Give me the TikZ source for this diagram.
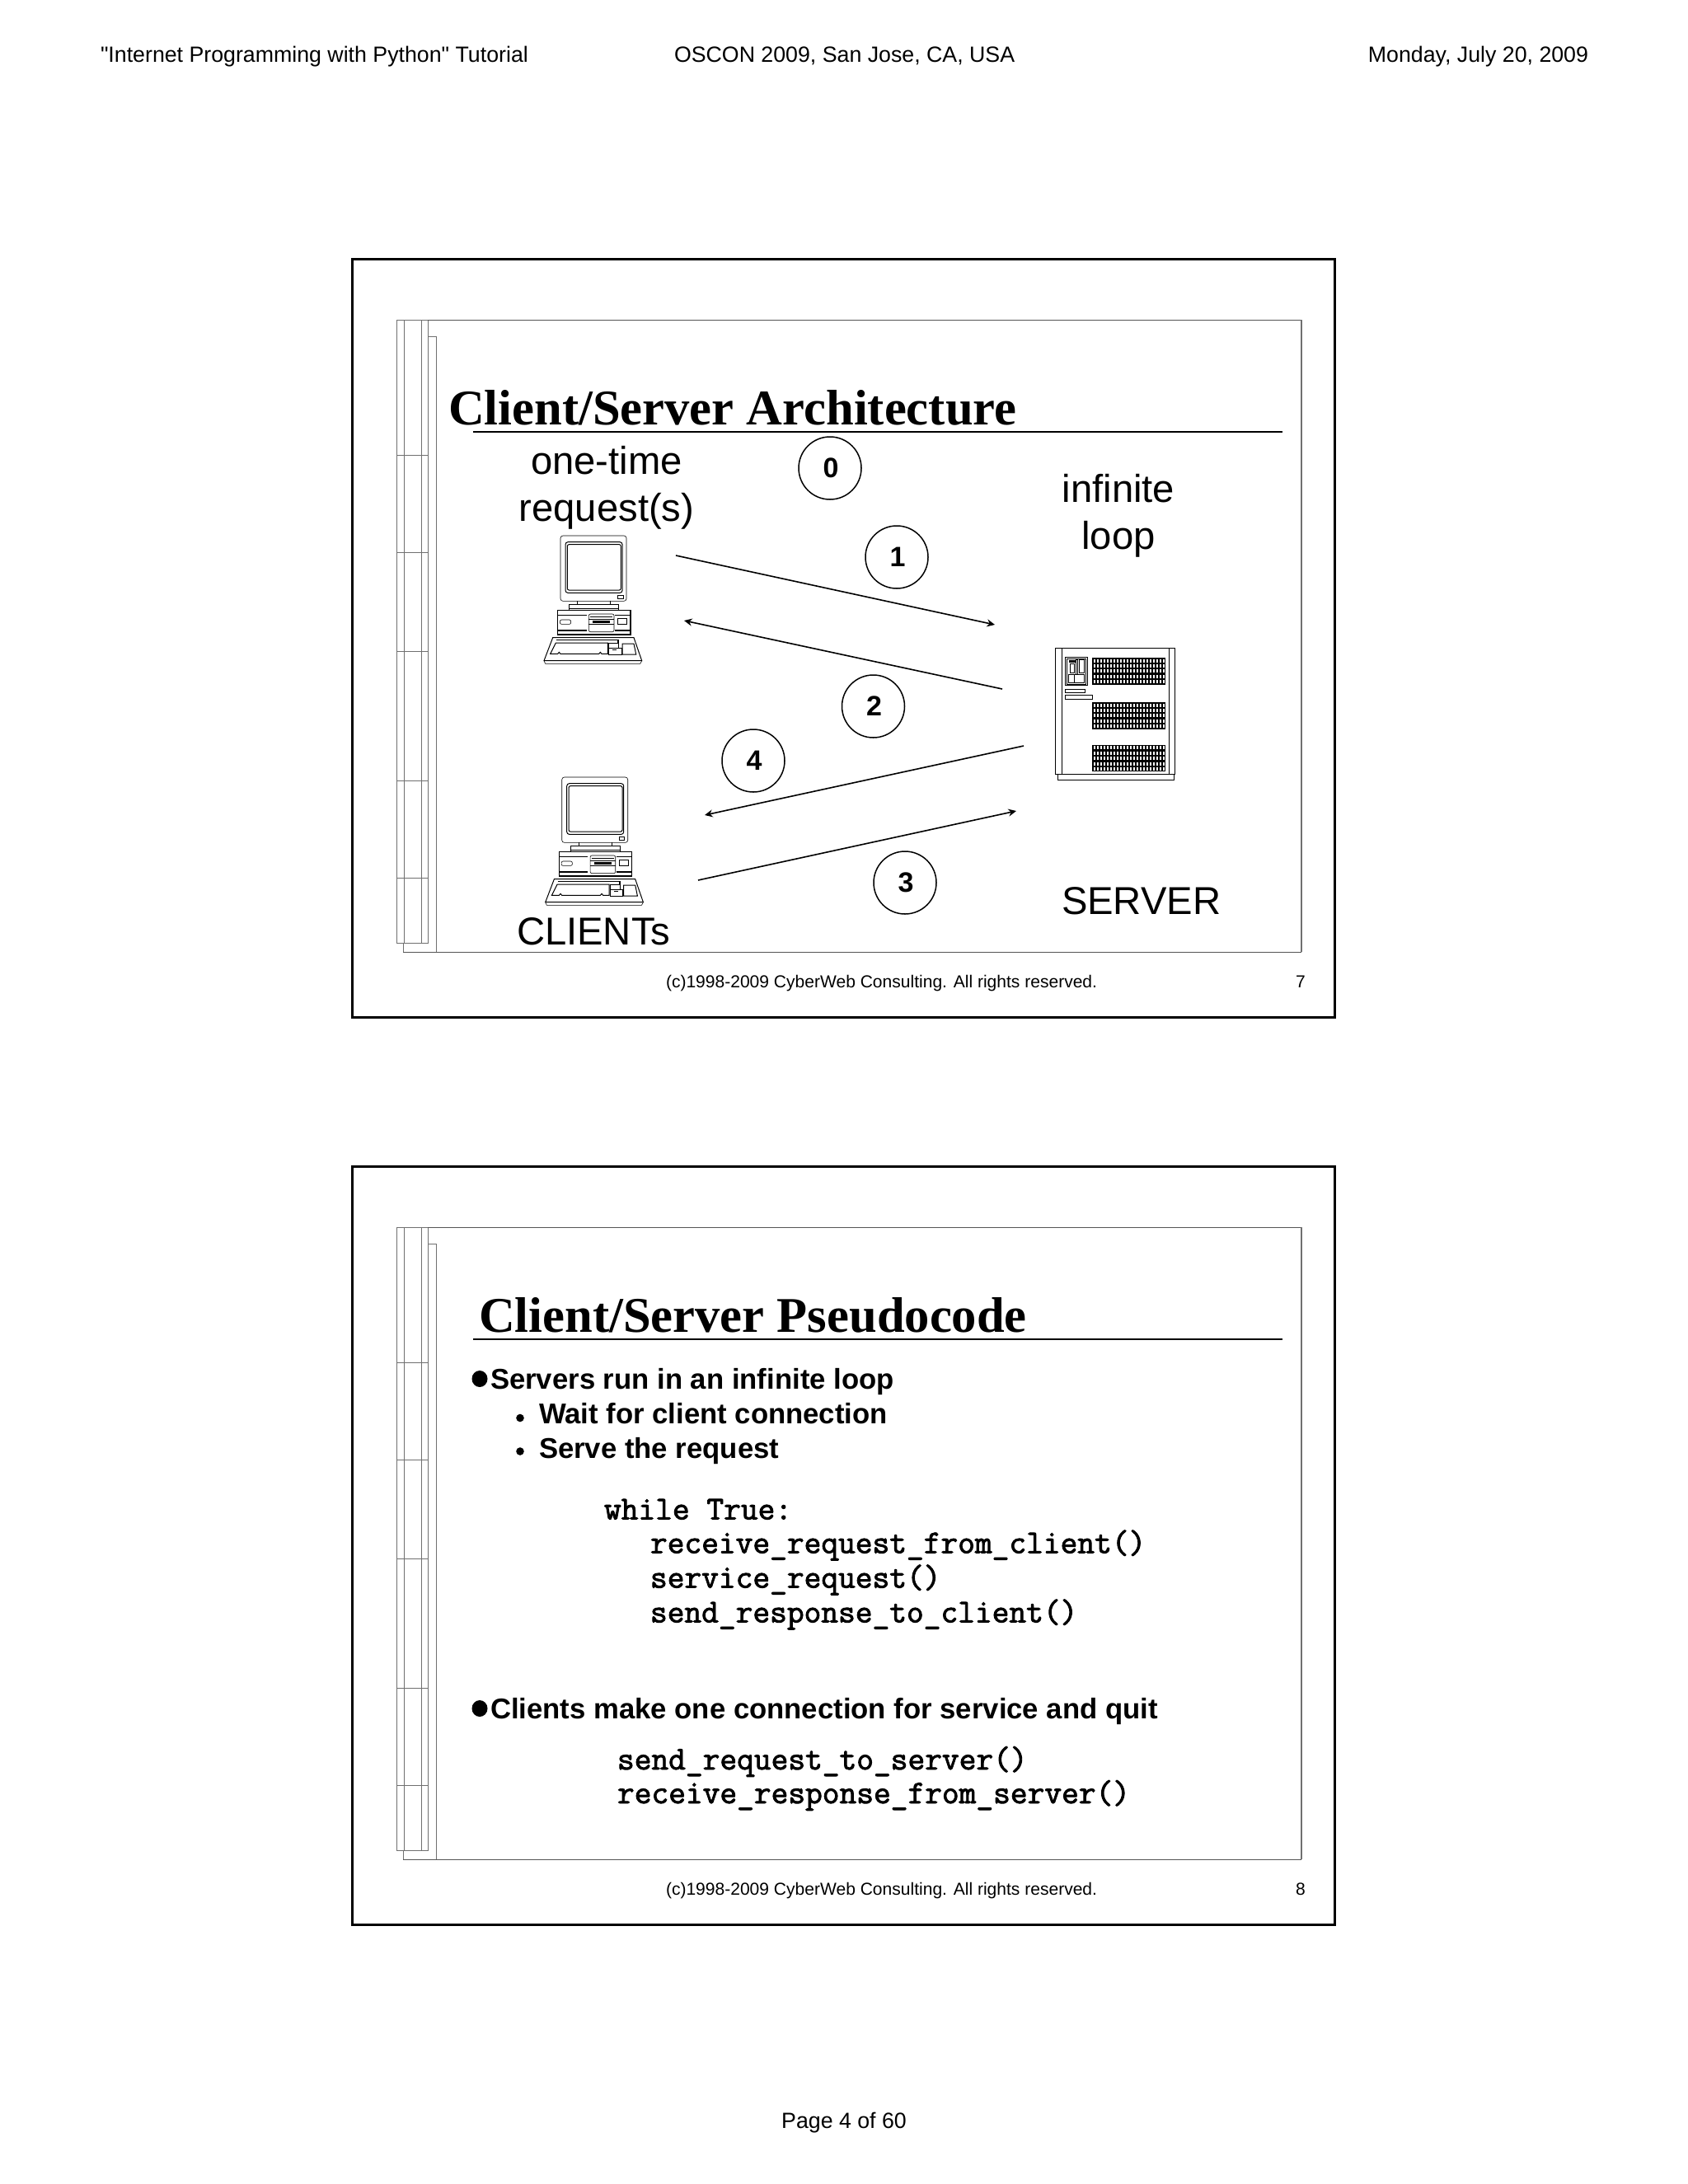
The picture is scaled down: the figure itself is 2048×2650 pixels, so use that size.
\documentclass[tikz,border=0pt]{standalone}
\usepackage{fontspec}
\setmainfont{Liberation Sans}
\newfontfamily\titlef{Liberation Serif}
\newfontfamily\hdrf{Liberation Sans}[Ligatures=ResetAll]
\newfontfamily\codef{Latin Modern Mono}[FakeBold=2.2]
\usetikzlibrary{arrows.meta}
\newcommand{\fs}[1]{\fontsize{#1}{#1}\selectfont}
\newcommand{\dg}[1]{\kern1pt\raisebox{-0.6pt}{#1}}
\definecolor{rulegray}{HTML}{555555}
\definecolor{colgray}{HTML}{707070}
\tikzset{
  x=0.5pt,y=-0.5pt,
  txt/.style={anchor=base west,inner sep=0pt,outer sep=0pt,text=black},
  ctr/.style={anchor=base,inner sep=0pt,outer sep=0pt,text=black},
  rgt/.style={anchor=base east,inner sep=0pt,outer sep=0pt,text=black},
  header/.style={font=\hdrf\fs{13.37}},
  foot/.style={font=\fs{10.52}},
  big/.style={font=\fs{23.6}},
  ttl/.style={font=\titlef\bfseries\fs{30.3}},
  body/.style={font=\bfseries\fs{17.35}},
  code/.style={font=\codef\fs{20.13}},
  badge/.style={circle,draw=black,line width=0.75pt,minimum size=38pt,inner sep=0pt,font=\bfseries\fs{17}},
  flow/.style={line width=0.8pt,-{Stealth[length=4.8pt,width=4.5pt]}},
  thick1/.style={line width=0.5pt},
  thick2/.style={line width=0.8pt},
  hair/.style={line width=0.3pt},
  computer/.pic={
    \begin{scope}[x=0.1667pt,y=-0.1667pt]
    \draw[hair,rounded corners=1.5pt] (180,90) rectangle (420,328);
    \draw[thick1,rounded corners=1.5pt] (198,113) rectangle (405,298);
    \draw[thick1,rounded corners=1pt] (205,122) rectangle (400,288);
    \draw[hair] (388,308) rectangle (408,320);
    \draw[thick1] (241,340) -- (241,326) (362,326) -- (362,340);
    \draw[hair] (212,340) rectangle (392,360);
    \draw[thick1] (212,354) -- (392,354);
    \draw[thick2] (170,361) rectangle (434,450);
    \draw[thick2] (170,379) -- (275,379) (378,379) -- (434,379) (170,435) -- (275,435) (378,435) -- (434,435);
    \draw[hair,rounded corners=1pt] (178,396) rectangle (218,412);
    \draw[hair,rounded corners=1pt] (283,375) rectangle (375,440);
    \draw[thick1] (288,385) -- (370,385) (283,395) -- (375,395);
    \draw[line width=1.2pt] (298,403) -- (360,403);
    \draw[hair] (283,412) -- (375,412);
    \draw[thick1] (388,392) rectangle (422,413);
    \draw[thick1] (152,461) -- (447,461) -- (476,545) -- (120,545) -- cycle;
    \draw[hair] (120,545) -- (125,556) -- (470,556) -- (476,545);
    \draw[thick2] (165,469) -- (390,469) -- (390,480);
    \draw[thick1] (163,480) -- (352,480) -- (352,520) -- (330,520) -- (325,514) -- (320,520) -- (180,520) -- (175,514) -- (170,520) -- (143,520) -- cycle;
    \draw[thick1] (355,480) -- (392,480) -- (392,498) -- (402,498) -- (402,522) -- (355,522) -- cycle (355,498) -- (392,498) (370,505) -- (385,505);
    \draw[thick1] (405,483) -- (447,483) -- (455,522) -- (405,522) -- cycle;
    \end{scope}
  },
  servergrid/.pic={
    \begin{scope}[x=0.1667pt,y=-0.1667pt]
    \fill[black] (0,0) rectangle (265,97);
    \foreach \c in {0,...,21}{\foreach \r in {0,...,4}{
      \fill[white] ({\c*12+3.5},{\r*19.4+3.5}) rectangle ({\c*12+9.5},{\r*19.4+15.5});}}
    \end{scope}
  },
  server/.pic={
    \begin{scope}[x=0.1667pt,y=-0.1667pt]
    \draw[thick1] (70,508) rectangle (492,530);
    \draw[thick1,fill=white] (62,50) rectangle (497,508);
    \draw[thick2] (62,50) -- (497,50) (86,50) -- (86,508) (62,50) -- (62,508);
    \draw[thick1] (475,50) -- (475,508);
    \draw[thick1] (98,83) rectangle (178,185);
    \draw[thick1] (103,88) rectangle (173,180);
    \fill[black] (112,92) rectangle (135,103);
    \draw[thick1] (115,107) rectangle (130,140);
    \draw[thick1] (137,90) rectangle (143,145) (149,90) rectangle (165,140);
    \draw[thick1] (110,145) rectangle (130,175) (130,145) rectangle (165,175);
    \draw[thick1] (98,199) rectangle (168,212);
    \draw[thick1] (98,220) rectangle (197,236);
    \pic at (196,85) {servergrid};
    \pic at (196,247) {servergrid};
    \pic at (196,402) {servergrid};
    \end{scope}
  },
  colline/.style={draw=colgray,line width=0.4pt},
  frameline/.style={draw=rulegray,line width=0.45pt},
  slide/.pic={
    \draw[line width=1.5pt,black] (427,314) rectangle (1619.5,1234);
    \draw[colline] (481,388) rectangle (519,1144);
    \draw[colline] (490,388) -- (490,1144) (511,388) -- (511,1144);
    \draw[colline] (519,408) -- (529,408);
    \draw[colline] (489,1144) -- (489,1155);
    \foreach \hy in {552,670,790,947,1065}{\draw[colline] (481,\hy) -- (519,\hy);}
    \draw[frameline] (519,388) -- (1579,388);
    \draw[frameline] (1579,1155) -- (489,1155);
    \draw[colline,line width=0.7pt] (1579,388) -- (1579,1155);
    \draw[colline] (529,408) -- (529,1155);
  }
}
\begin{document}
\begin{tikzpicture}
\useasboundingbox (0,0) rectangle (2048,2650);
% page furniture
\node[txt,header] (hL) at (122,75) {"Internet Programming with Python" Tutorial};
\node[txt,header] (hC) at (818,75) {OSCON 2009, San Jose, CA, USA};
\node[rgt,header] (hR) at (1927,75) {Monday, July 20, 2009};
\node[ctr,header] (pg) at (1024,2582) {Page 4 of 60};
% slide frames
\pic at (0,0) {slide};
\pic at (0,1101) {slide};
% slide 1
\node[txt,ttl] (t1) at (544,515.5) {Client/Server Architecture};
\draw[line width=1pt] (574,524) -- (1556,524);
\node[ctr,big] (a1) at (736,575) {one-time};
\node[ctr,big] (a2) at (736,632) {request(s)};
\node[ctr,big] (b1) at (1357,609.5) {infinite};
\node[ctr,big] (b2) at (1357,666) {loop};
\node[txt,big] (sv) at (1288,1109) {SERVER};
\node[txt,big] (cl) at (627,1146) {CLIENTs};
\node[badge] (n0) at (1007,568) {\dg{0}};
\node[badge] (n1) at (1088,676) {\dg{1}};
\node[badge] (n2) at (1059.5,857) {\dg{2}};
\node[badge] (n3) at (1098,1071) {\dg{3}};
\node[badge] (n4) at (914,923) {\dg{4}};
\pic at (620,620) {computer};
\pic at (621.7,913) {computer};
\pic at (1260,770) {server};
\coordinate (a1s) at (820,674); \coordinate (a1e) at (1207,758);
\coordinate (a2s) at (1216,836); \coordinate (a2e) at (830,753);
\coordinate (a3s) at (847,1068); \coordinate (a3e) at (1233,984);
\coordinate (a4s) at (1242,905); \coordinate (a4e) at (855,989);
\draw[flow] (a1s) -- (a1e);
\draw[flow] (a2s) -- (a2e);
\draw[flow] (a3s) -- (a3e);
\draw[flow] (a4s) -- (a4e);
\node[txt,foot] (f1) at (808,1198) {(c)1998-2009 CyberWeb Consulting. All rights reserved.};
\node[txt,foot] (p7) at (1572,1198) {7};
% slide 2
\node[txt,ttl] (t2) at (581,1616.5) {Client/Server Pseudocode};
\draw[line width=1pt] (574,1625) -- (1556,1625);
\fill (582,1673) ellipse[x radius=9.5,y radius=10];
\node[txt,body] (s1) at (595,1685) {Servers run in an infinite loop};
\fill (631,1720.5) circle[radius=4.8];
\node[txt,body] (s2) at (654,1727) {Wait for client connection};
\fill (631,1761) circle[radius=4.8];
\node[txt,body] (s3) at (654,1769) {Serve the request};
\node[txt,code] (c1) at (733,1843.5) {while True:};
\node[txt,code] (c2) at (789,1884.5) {receive\_request\_from\_client()};
\node[txt,code] (c3) at (789,1926.5) {service\_request()};
\node[txt,code] (c4) at (789,1968.5) {send\_response\_to\_client()};
\fill (582,2073) ellipse[x radius=9.5,y radius=10];
\node[txt,body] (s4) at (595,2085) {Clients make one connection for service and quit};
\node[txt,code] (c5) at (749,2147) {send\_request\_to\_server()};
\node[txt,code] (c6) at (749,2188) {receive\_response\_from\_server()};
\node[txt,foot] (f2) at (808,2299) {(c)1998-2009 CyberWeb Consulting. All rights reserved.};
\node[txt,foot] (p8) at (1572,2299) {8};
\end{tikzpicture}
\end{document}
